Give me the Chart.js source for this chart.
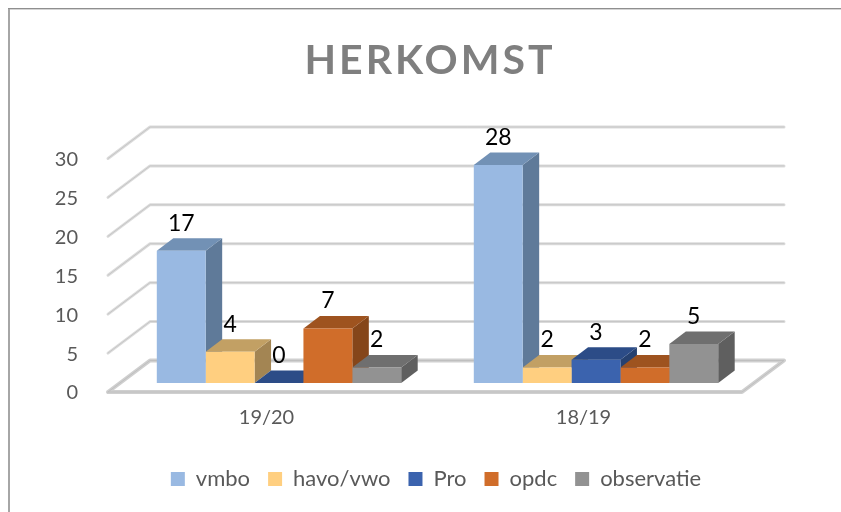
<!DOCTYPE html>
<html>
<head>
<meta charset="utf-8">
<script src="https://cdn.jsdelivr.net/npm/chart.js@4"></script>
<style>
html,body{margin:0;padding:0;background:#fff;overflow:hidden}
canvas{display:block}
</style>
</head>
<body>
<canvas id="c" width="841" height="512"></canvas>
<script>
const chartTitle = "HERKOMST";
const categories = ["19/20", "18/19"];
const seriesNames = ["vmbo", "havo/vwo", "Pro", "opdc", "observatie"];
const vmbo = [17, 28];
const havoVwo = [4, 2];
const pro = [0, 3];
const opdc = [7, 2];
const observatie = [2, 5];
const seriesValues = [vmbo, havoVwo, pro, opdc, observatie];
const frontColors = ["#99b9e2", "#ffcf80", "#3b63ae", "#d06d2a", "#929292"];
const topColors = ["#7291b5", "#c2a064", "#2c4c87", "#9e531f", "#6f6f6f"];
const sideColors = ["#5f7a99", "#a38553", "#264170", "#85461a", "#5f5f5f"];
const tickMax = 30, tickStep = 5;

const FONT = "Lato, Carlito, 'Open Sans', sans-serif";
const TEXT = "#595959";
// 3D projection
const WALL_DX = 42, WALL_DY = -31.5;   // floor depth
const BAR_SHIFT_X = 12.5, BAR_SHIFT_Y = -9; // bars stand mid-floor
const BAR_DX = 16.5, BAR_DY = -12.5;   // bar depth

function poly(ctx, pts, fill) {
  ctx.beginPath();
  pts.forEach((p, i) => i ? ctx.lineTo(p[0], p[1]) : ctx.moveTo(p[0], p[1]));
  ctx.closePath();
  ctx.fillStyle = fill;
  ctx.fill();
}
function stroke3(ctx, pts, wide, narrow, w) {
  [[wide, w], [narrow, 1]].forEach(([col, lw]) => {
    ctx.beginPath();
    pts.forEach((p, i) => i ? ctx.lineTo(p[0], p[1]) : ctx.moveTo(p[0], p[1]));
    ctx.strokeStyle = col; ctx.lineWidth = lw; ctx.lineCap = "round"; ctx.lineJoin = "round";
    ctx.stroke();
  });
}

const chart3d = {
  id: "chart3d",
  beforeDraw(chart) {
    const ctx = chart.ctx;
    if (chart.titleBlock && !chart.titleBlock._w) {
      const t = chart.titleBlock, d = t.draw;
      t._w = true;
      t.draw = function () { ctx.save(); ctx.letterSpacing = "3px"; d.call(t); ctx.restore(); };
    }
    if (chart.legend && !chart.legend._w) {
      const l = chart.legend, d = l.draw;
      l._w = true;
      l.draw = function () { ctx.save(); ctx.translate(6, 1); d.call(l); ctx.restore(); };
    }
    // frame
    ctx.save();
    ctx.fillStyle = "#a6a6a6"; ctx.fillRect(8, 8, 2, 504);
    ctx.fillStyle = "#8f8f8f"; ctx.fillRect(8, 8, 833, 1);
    ctx.fillStyle = "#d4d4d4"; ctx.fillRect(10, 9, 831, 1);
    // walls
    const y = chart.scales.y, a = chart.chartArea;
    for (let v = tickStep; v <= tickMax; v += tickStep) {
      const p = y.getPixelForValue(v);
      stroke3(ctx, [[a.left, p], [a.left + WALL_DX, p + WALL_DY], [a.right + WALL_DX, p + WALL_DY]], "#dcdcdc", "#c6c6c6", 3);
    }
    const p0 = y.getPixelForValue(0);
    stroke3(ctx, [[a.left, p0], [a.right, p0], [a.right + WALL_DX, p0 + WALL_DY], [a.left + WALL_DX, p0 + WALL_DY], [a.left, p0]], "#cfcfcf", "#bfbfbf", 4);
    ctx.restore();
  },
  beforeDatasetsDraw(chart) {
    // sides and tops first, series by series, so each later series covers the earlier one
    const ctx = chart.ctx;
    ctx.save();
    ctx.translate(BAR_SHIFT_X, BAR_SHIFT_Y);
    seriesNames.forEach((name, i) => {
      chart.getDatasetMeta(i).data.forEach(bar => {
        const h = bar.width / 2, x1 = bar.x - h, x2 = bar.x + h, t = bar.y, b = bar.base;
        poly(ctx, [[x2, t], [x2 + BAR_DX, t + BAR_DY], [x2 + BAR_DX, b + BAR_DY], [x2, b]], sideColors[i]);
        poly(ctx, [[x1, t], [x1 + BAR_DX, t + BAR_DY], [x2 + BAR_DX, t + BAR_DY], [x2, t]], topColors[i]);
      });
    });
    ctx.restore();
  },
  beforeDatasetDraw(chart) {
    chart.ctx.save();
    chart.ctx.translate(BAR_SHIFT_X, BAR_SHIFT_Y);
  },
  afterDatasetDraw(chart) { chart.ctx.restore(); },
  afterDatasetsDraw(chart) {
    const ctx = chart.ctx;
    ctx.save();
    ctx.font = "23px " + FONT;
    ctx.fillStyle = "#000";
    ctx.textAlign = "center";
    ctx.textBaseline = "middle";
    seriesValues.forEach((vals, i) => {
      chart.getDatasetMeta(i).data.forEach((bar, j) => {
        ctx.fillText(String(vals[j]), bar.x + BAR_SHIFT_X, bar.y + BAR_SHIFT_Y + BAR_DY - 15);
      });
    });
    ctx.restore();
  }
};

new Chart(document.getElementById("c"), {
  type: "bar",
  data: {
    labels: categories,
    datasets: seriesNames.map((name, i) => ({
      label: name,
      data: seriesValues[i],
      backgroundColor: frontColors[i],
      borderWidth: 0,
      clip: false
    }))
  },
  plugins: [chart3d],
  options: {
    responsive: false,
    animation: false,
    layout: { padding: { left: 19, right: 0, top: 0, bottom: 13 } },
    datasets: { bar: { barPercentage: 1, categoryPercentage: 0.771 } },
    plugins: {
      tooltip: { enabled: false },
      title: {
        display: true,
        text: chartTitle,
        color: "#7f7f7f",
        font: { family: FONT, size: 41, weight: "bold" },
        padding: { top: 36, bottom: 73.3 }
      },
      legend: {
        position: "bottom",
        labels: {
          color: TEXT,
          font: { family: FONT, size: 22 },
          boxWidth: 14,
          boxHeight: 14,
          padding: 18
        }
      }
    },
    scales: {
      x: {
        grid: { display: false },
        border: { display: false },
        ticks: { color: TEXT, font: { family: FONT, size: 20 }, padding: 6, maxRotation: 0 },
        afterFit(s) { s.height = 57; }
      },
      y: {
        min: 0,
        max: tickMax,
        grid: { display: false },
        border: { display: false },
        ticks: { stepSize: tickStep, color: TEXT, font: { family: FONT, size: 20 }, padding: 22, labelOffset: 1 },
        afterFit(s) { s.width = 89; }
      },
      rightGap: {
        axis: "y",
        position: "right",
        grid: { display: false },
        border: { display: false },
        ticks: { display: false },
        afterFit(s) { s.width = 99; }
      }
    }
  }
});
</script>
</body>
</html>
